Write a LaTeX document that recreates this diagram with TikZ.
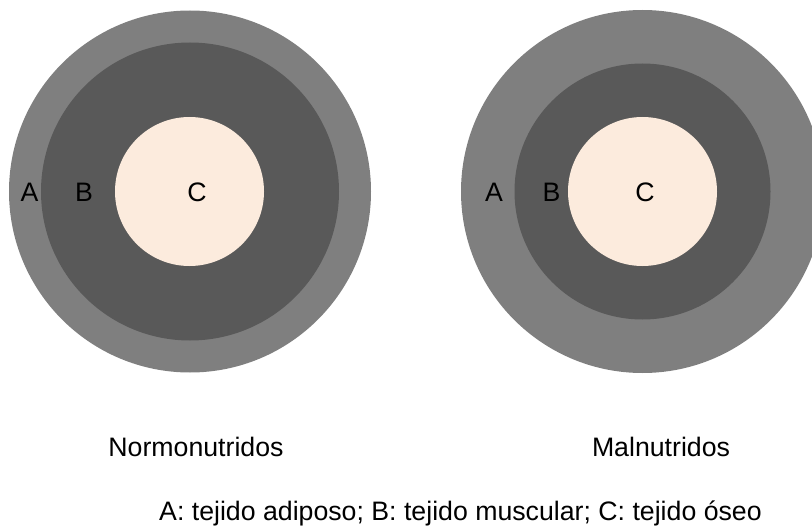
\documentclass[tikz,border=0pt]{standalone}
\usepackage{fontspec}
\setmainfont{Liberation Sans}
\definecolor{layerA}{HTML}{7F7F7F}
\definecolor{layerB}{HTML}{595959}
\definecolor{layerC}{HTML}{FCEBDD}
\begin{document}
\begin{tikzpicture}[x=1pt,y=-1pt,
  lbl/.style={inner sep=0pt,anchor=base,font=\fontsize{26.7}{32}\selectfont,text=black}]
\useasboundingbox (0,0) rectangle (812,527);
\clip (0,0) rectangle (812,527);
% left: normonutridos
\fill[layerA] (190,191.5) circle (181);
\fill[layerB] (190,191.5) circle (149);
\fill[layerC] (189.5,191.5) circle (74.5);
% right: malnutridos
\fill[layerA] (642.5,191.5) circle (181.5);
\fill[layerB] (642.5,191.5) circle (128);
\fill[layerC] (642.5,191.5) circle (74.5);
% labels
\node[lbl] (lA) at (29.5,201) {A};
\node[lbl] (lB) at (84,201) {B};
\node[lbl] (lC) at (197,201) {C};
\node[lbl] (rA) at (494,201) {A};
\node[lbl] (rB) at (551.5,201) {B};
\node[lbl] (rC) at (645,201) {C};
\node[lbl] (norm) at (196,456.7) {Normonutridos};
\node[lbl] (mal) at (661,456.7) {Malnutridos};
\node[lbl,anchor=base west] (legend) at (159,520) {A: tejido adiposo; B: tejido muscular; C: tejido óseo};
\end{tikzpicture}
\end{document}
